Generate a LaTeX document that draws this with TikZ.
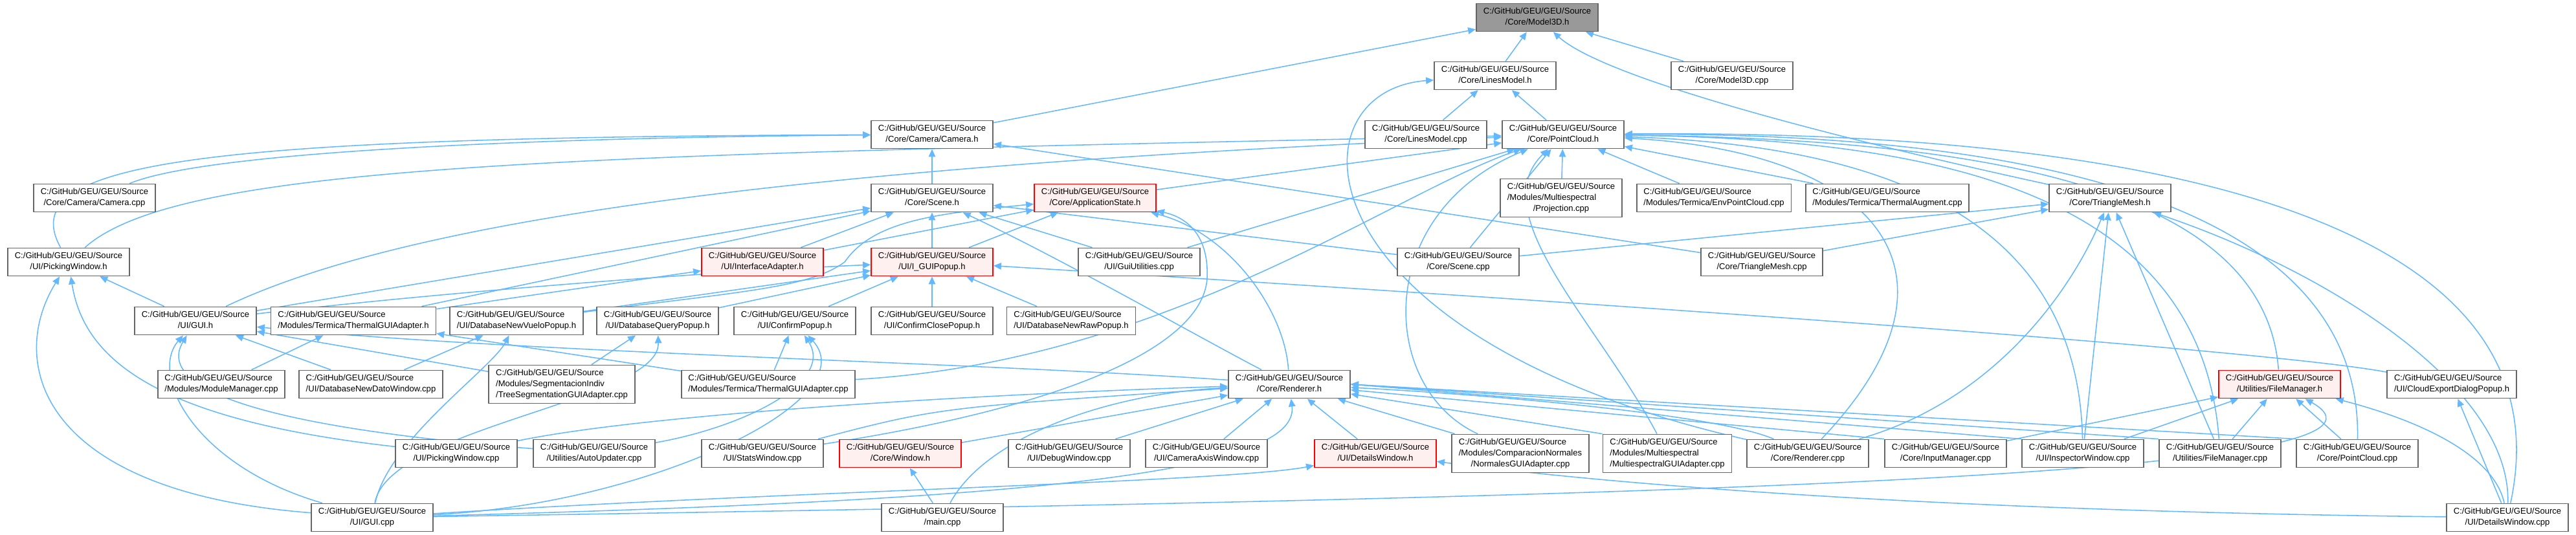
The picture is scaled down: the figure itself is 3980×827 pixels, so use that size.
\documentclass[tikz,border=0pt]{standalone}
\usepackage{fontspec}
\setmainfont{Liberation Sans}
\usepackage{xcolor}
\usepackage{tikz}
\usetikzlibrary{arrows.meta,backgrounds}
\definecolor{boxline}{HTML}{666666}
\definecolor{rootbg}{HTML}{999999}
\definecolor{hotline}{HTML}{FF0000}
\definecolor{hotbg}{HTML}{FFF0F0}
\definecolor{edgeblue}{HTML}{63B8FF}
\newcommand{\pathfont}{\fontsize{9.3}{11.9}\selectfont}
\newcommand{\gpath}[1]{\begin{tabular}{@{}l@{}}C:/GitHub/GEU/GEU/Source\\\multicolumn{1}{@{}c@{}}{#1}\end{tabular}}
\newcommand{\gpathm}[2]{\begin{tabular}{@{}l@{}}C:/GitHub/GEU/GEU/Source\\#1\\\multicolumn{1}{@{}c@{}}{#2}\end{tabular}}
\tikzset{
  box/.style     = {draw=boxline, fill=white, line width=1.3pt, inner xsep=2.7mm,
                    inner ysep=1mm, minimum height=10.75mm, font=\pathfont},
  tallbox/.style = {box, minimum height=14.75mm},
  trunc/.style   = {box, draw=hotline, fill=hotbg},
  rootbox/.style = {box, fill=rootbg},
  ar/.style      = {-{Triangle[length=3mm,width=2.6mm]}, draw=edgeblue, line width=1.1pt},
}

\begin{document}
\begin{tikzpicture}[x=0.25mm, y=-0.25mm]
  \useasboundingbox (0,0) rectangle (3980,827);
  \node[rootbox] (model) at (2375,27) {\gpath{/Core/Model3D.h}};
  \node[box] (linesh) at (2310,117) {\gpath{/Core/LinesModel.h}};
  \node[box] (modelcpp) at (2676,117) {\gpath{/Core/Model3D.cpp}};
  \node[box] (camh) at (1440,208) {\gpath{/Core/Camera/Camera.h}};
  \node[box] (linescpp) at (2203,208) {\gpath{/Core/LinesModel.cpp}};
  \node[box] (pch) at (2415,208) {\gpath{/Core/PointCloud.h}};
  \node[box] (camcpp) at (146,306) {\gpath{/Core/Camera/Camera.cpp}};
  \node[box] (sceneh) at (1440,306) {\gpath{/Core/Scene.h}};
  \node[trunc] (appst) at (1692,306) {\gpath{/Core/ApplicationState.h}};
  \node[tallbox] (proj) at (2412,306) {\gpathm{/Modules/Multiespectral}{/Projection.cpp}};
  \node[box] (envpc) at (2648,306) {\gpath{/Modules/Termica/EnvPointCloud.cpp}};
  \node[box] (thaug) at (2916,306) {\gpath{/Modules/Termica/ThermalAugment.cpp}};
  \node[box] (trih) at (3260,306) {\gpath{/Core/TriangleMesh.h}};
  \node[box] (pickh) at (106,405) {\gpath{/UI/PickingWindow.h}};
  \node[trunc] (ifad) at (1178,405) {\gpath{/UI/InterfaceAdapter.h}};
  \node[trunc] (popup) at (1440,405) {\gpath{/UI/I\_GUIPopup.h}};
  \node[box] (guiut) at (1760,405) {\gpath{/UI/GuiUtilities.cpp}};
  \node[box] (scenecpp) at (2253,405) {\gpath{/Core/Scene.cpp}};
  \node[box] (tricpp) at (2722,405) {\gpath{/Core/TriangleMesh.cpp}};
  \node[box] (guih) at (302,496) {\gpath{/UI/GUI.h}};
  \node[box] (thguih) at (546,496) {\gpath{/Modules/Termica/ThermalGUIAdapter.h}};
  \node[box] (vuelo) at (798,496) {\gpath{/UI/DatabaseNewVueloPopup.h}};
  \node[box] (query) at (1016,496) {\gpath{/UI/DatabaseQueryPopup.h}};
  \node[box] (confirm) at (1228,496) {\gpath{/UI/ConfirmPopup.h}};
  \node[box] (cclose) at (1440,496) {\gpath{/UI/ConfirmClosePopup.h}};
  \node[box] (rawpop) at (1655,496) {\gpath{/UI/DatabaseNewRawPopup.h}};
  \node[box] (modman) at (342,594) {\gpath{/Modules/ModuleManager.cpp}};
  \node[box] (datowin) at (573,594) {\gpath{/UI/DatabaseNewDatoWindow.cpp}};
  \node[tallbox] (treeseg) at (868,594) {\gpathm{/Modules/SegmentacionIndiv}{/TreeSegmentationGUIAdapter.cpp}};
  \node[box] (thguicpp) at (1187,594) {\gpath{/Modules/Termica/ThermalGUIAdapter.cpp}};
  \node[box] (rendh) at (1992,594) {\gpath{/Core/Renderer.h}};
  \node[trunc] (fmh) at (3522,594) {\gpath{/Utilities/FileManager.h}};
  \node[box] (cloudexp) at (3788,594) {\gpath{/UI/CloudExportDialogPopup.h}};
  \node[box] (pickcpp) at (705,701) {\gpath{/UI/PickingWindow.cpp}};
  \node[box] (autoupd) at (918,701) {\gpath{/Utilities/AutoUpdater.cpp}};
  \node[box] (stats) at (1178,701) {\gpath{/UI/StatsWindow.cpp}};
  \node[trunc] (windowh) at (1391,701) {\gpath{/Core/Window.h}};
  \node[box] (debugw) at (1652,701) {\gpath{/UI/DebugWindow.cpp}};
  \node[box] (camaxis) at (1864,701) {\gpath{/UI/CameraAxisWindow.cpp}};
  \node[trunc] (detailsh) at (2125,701) {\gpath{/UI/DetailsWindow.h}};
  \node[tallbox] (normales) at (2349,701) {\gpathm{/Modules/ComparacionNormales}{/NormalesGUIAdapter.cpp}};
  \node[tallbox] (multigui) at (2576,701) {\gpathm{/Modules/Multiespectral}{/MultiespectralGUIAdapter.cpp}};
  \node[box] (rendcpp) at (2793,701) {\gpath{/Core/Renderer.cpp}};
  \node[box] (inputm) at (3006,701) {\gpath{/Core/InputManager.cpp}};
  \node[box] (inspect) at (3218,701) {\gpath{/UI/InspectorWindow.cpp}};
  \node[box] (fmcpp) at (3430,701) {\gpath{/Utilities/FileManager.cpp}};
  \node[box] (pccpp) at (3642,701) {\gpath{/Core/PointCloud.cpp}};
  \node[box] (guicpp) at (575,800) {\gpath{/UI/GUI.cpp}};
  \node[box] (maincpp) at (1456,800) {\gpath{/main.cpp}};
  \node[box] (detailscpp) at (3874,800) {\gpath{/UI/DetailsWindow.cpp}};

  \begin{scope}[on background layer]
    \draw[ar] (camh) -- (model);
    \draw[ar] (linesh) -- (model);
    \draw[ar] (modelcpp) -- (model);
    \draw[ar] (trih) .. controls (3050,260) and (2500,140) .. (model);
    \draw[ar] (linescpp) -- (linesh);
    \draw[ar] (pch) -- (linesh);
    \draw[ar] (rendcpp) .. controls (2000,520) and (1990,140) .. (linesh);
    \draw[ar] (camcpp) .. controls (330,230) and (900,212) .. (camh);
    \draw[ar] (pickh) .. controls (20,250) and (300,212) .. (camh);
    \draw[ar] (sceneh) -- (camh);
    \draw[ar] (tricpp) -- (camh);
    \draw[ar] (pickh) .. controls (280,250) and (900,240) .. (pch);
    \draw[ar] (guih) .. controls (650,330) and (1300,255) .. (pch);
    \draw[ar] (appst) -- (pch);
    \draw[ar] (guiut) -- (pch);
    \draw[ar] (thguicpp) .. controls (1800,560) and (2150,300) .. (pch);
    \draw[ar] (normales) .. controls (2130,600) and (2120,330) .. (pch);
    \draw[ar] (scenecpp) -- (pch);
    \draw[ar] (multigui) .. controls (2470,500) and (2290,330) .. (pch);
    \draw[ar] (proj) -- (pch);
    \draw[ar] (envpc) -- (pch);
    \draw[ar] (thaug) -- (pch);
    \draw[ar] (rendcpp) .. controls (3060,420) and (2900,235) .. (pch);
    \draw[ar] (inspect) .. controls (3210,330) and (2900,225) .. (pch);
    \draw[ar] (fmh) .. controls (3500,300) and (3100,215) .. (pch);
    \draw[ar] (fmcpp) .. controls (3400,300) and (3000,215) .. (pch);
    \draw[ar] (pccpp) .. controls (3650,300) and (3100,205) .. (pch);
    \draw[ar] (detailscpp) .. controls (3975,330) and (3300,200) .. (pch);
    \draw[ar] (guih) -- (sceneh);
    \draw[ar] (thguih) -- (sceneh);
    \draw[ar] (ifad) -- (sceneh);
    \draw[ar] (popup) -- (sceneh);
    \draw[ar] (guiut) -- (sceneh);
    \draw[ar] (scenecpp) -- (sceneh);
    \draw[ar] (rendh) .. controls (1850,520) and (1640,400) .. (sceneh);
    \draw[ar] (ifad) -- (appst);
    \draw[ar] (popup) -- (appst);
    \draw[ar] (vuelo) .. controls (1150,450) and (1250,445) .. (1305,405) .. controls (1350,340) and (1450,330) .. (appst);
    \draw[ar] (stats) .. controls (1700,620) and (1860,520) .. (1865,430) .. controls (1868,360) and (1830,335) .. (appst);
    \draw[ar] (rendh) .. controls (1985,480) and (1900,360) .. (appst);
    \draw[ar] (scenecpp) -- (trih);
    \draw[ar] (tricpp) -- (trih);
    \draw[ar] (rendcpp) .. controls (3080,620) and (3200,450) .. (trih);
    \draw[ar] (inspect) -- (trih);
    \draw[ar] (fmcpp) -- (trih);
    \draw[ar] (detailscpp) .. controls (3880,600) and (3600,420) .. (trih);
    \draw[ar] (guih) -- (pickh);
    \draw[ar] (pickcpp) .. controls (250,650) and (130,560) .. (pickh);
    \draw[ar] (guicpp) .. controls (60,760) and (10,560) .. (pickh);
    \draw[ar] (thguih) -- (ifad);
    \draw[ar] (guih) .. controls (700,450) and (1100,420) .. (popup);
    \draw[ar] (vuelo) -- (popup);
    \draw[ar] (query) -- (popup);
    \draw[ar] (confirm) -- (popup);
    \draw[ar] (cclose) -- (popup);
    \draw[ar] (rawpop) -- (popup);
    \draw[ar] (cloudexp) .. controls (3500,540) and (2500,470) .. (popup);
    \draw[ar] (datowin) -- (guih);
    \draw[ar] (treeseg) -- (guih);
    \draw[ar] (autoupd) .. controls (400,660) and (240,600) .. (guih);
    \draw[ar] (guicpp) .. controls (300,720) and (230,580) .. (guih);
    \draw[ar] (rendh) .. controls (1500,560) and (800,545) .. (guih);
    \draw[ar] (modman) -- (thguih);
    \draw[ar] (thguicpp) -- (thguih);
    \draw[ar] (datowin) -- (vuelo);
    \draw[ar] (guicpp) .. controls (600,680) and (760,570) .. (vuelo);
    \draw[ar] (treeseg) -- (query);
    \draw[ar] (guicpp) .. controls (600,660) and (1020,620) .. (query);
    \draw[ar] (thguicpp) -- (confirm);
    \draw[ar] (autoupd) .. controls (1150,660) and (1290,590) .. (confirm);
    \draw[ar] (guicpp) .. controls (1000,780) and (1340,620) .. (confirm);
    \draw[ar] (pickcpp) .. controls (1000,640) and (1500,610) .. (rendh);
    \draw[ar] (stats) .. controls (1450,630) .. (rendh);
    \draw[ar] (windowh) -- (rendh);
    \draw[ar] (maincpp) .. controls (1520,680) and (1700,610) .. (rendh);
    \draw[ar] (debugw) -- (rendh);
    \draw[ar] (camaxis) -- (rendh);
    \draw[ar] (guicpp) .. controls (1500,775) and (2010,740) .. (rendh);
    \draw[ar] (detailsh) -- (rendh);
    \draw[ar] (normales) -- (rendh);
    \draw[ar] (multigui.north west) -- (rendh);
    \draw[ar] (rendcpp) .. controls (2650,640) and (2300,610) .. (rendh);
    \draw[ar] (inputm.north west) -- (rendh);
    \draw[ar] (inspect.north west) -- (rendh.east);
    \draw[ar] (fmcpp.north west) -- (rendh.east);
    \draw[ar] (pccpp.north west) -- (rendh.east);
    \draw[ar] (maincpp) -- (windowh);
    \draw[ar] (guicpp) .. controls (1200,760) and (1900,745) .. (detailsh);
    \draw[ar] (detailscpp) .. controls (3000,790) and (2500,750) .. (detailsh);
    \draw[ar] (inputm) -- (fmh);
    \draw[ar] (inspect) -- (fmh);
    \draw[ar] (fmcpp) -- (fmh);
    \draw[ar] (pccpp) -- (fmh);
    \draw[ar] (guicpp) .. controls (2500,770) and (3780,740) .. (fmh);
    \draw[ar] (detailscpp) .. controls (3850,690) and (3700,640) .. (fmh);
    \draw[ar] (detailscpp) -- (cloudexp);
  \end{scope}
\end{tikzpicture}
\end{document}
